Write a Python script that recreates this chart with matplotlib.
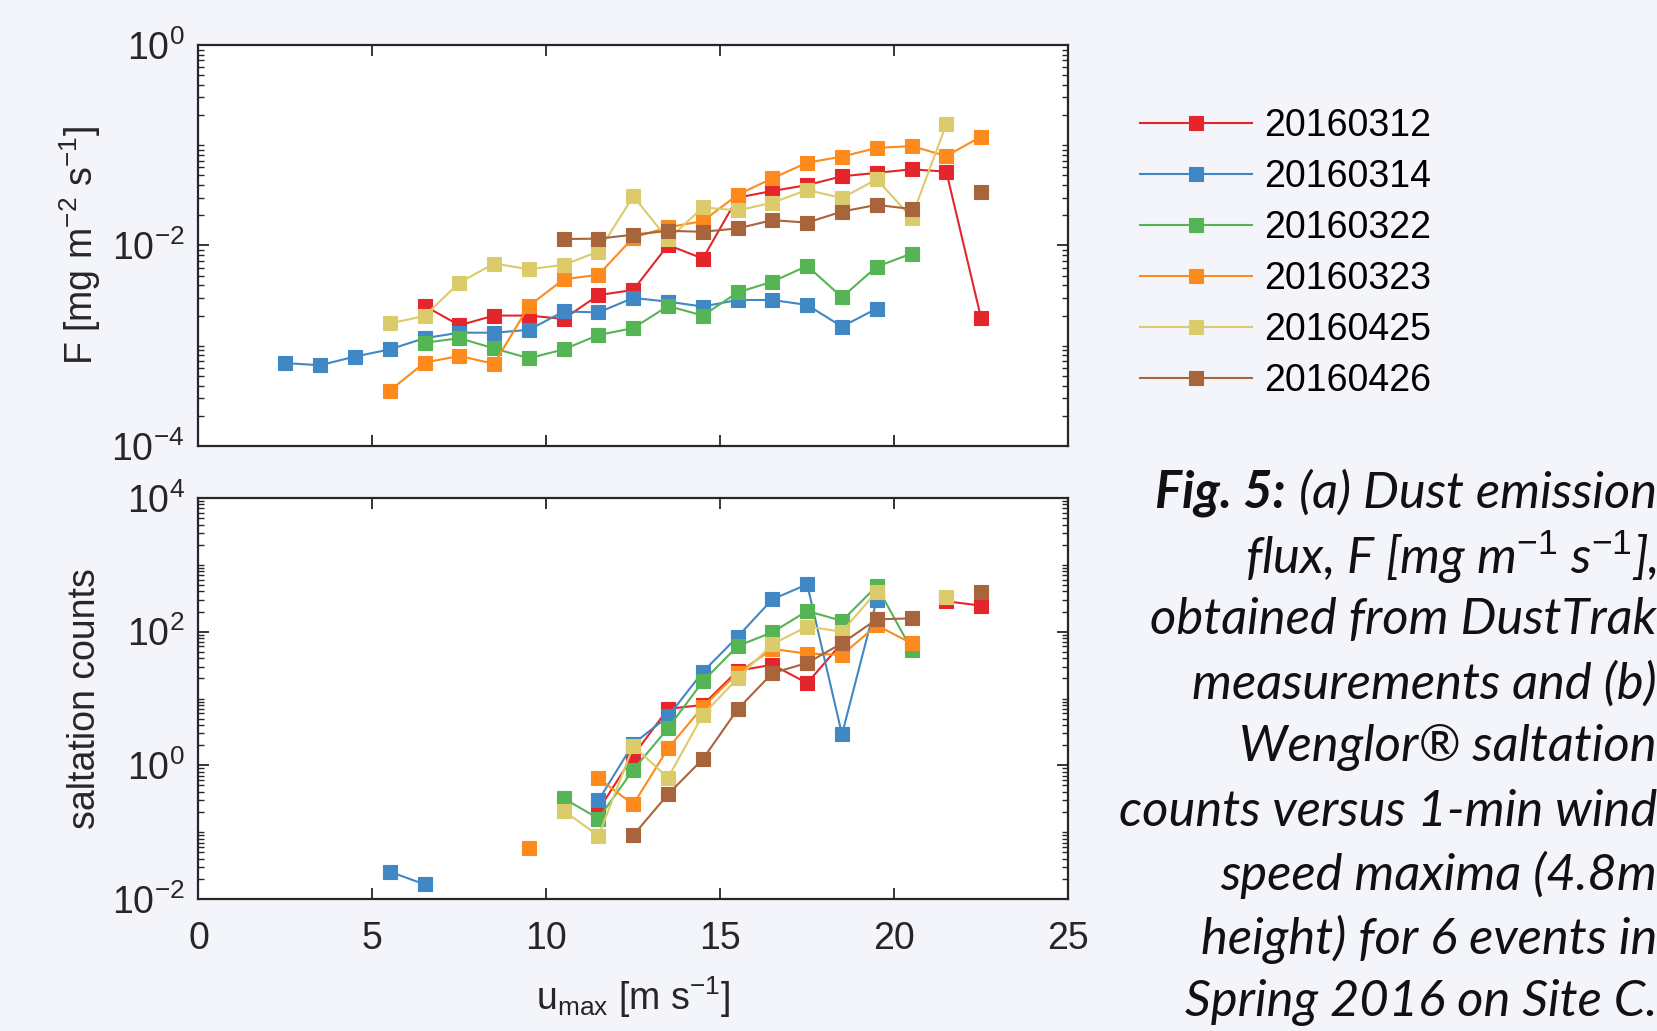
import numpy as np
import matplotlib
matplotlib.use('Agg')
import matplotlib.pyplot as plt
from matplotlib.ticker import LogLocator, NullFormatter, FixedLocator

nan = np.nan

# wind speed bins (1-min maxima), m/s
u_max = [2.5, 3.5, 4.5, 5.5, 6.5, 7.5, 8.5, 9.5, 10.5, 11.5, 12.5,
         13.5, 14.5, 15.5, 16.5, 17.5, 18.5, 19.5, 20.5, 21.5, 22.5]

events = ['20160312', '20160314', '20160322', '20160323', '20160425', '20160426']
colors = ['#e4262c', '#3f88c5', '#55b454', '#fd8a1c', '#dccb6a', '#a8643a']

# (a) dust emission flux F [mg m-2 s-1]
F_0312 = [nan, nan, nan, nan, 2.5e-3, 1.6e-3, 2.0e-3, 2.0e-3, 1.85e-3, 3.2e-3, 3.6e-3,
          1.01e-2, 7.4e-3, 3.0e-2, 3.5e-2, 4.0e-2, 4.9e-2, 5.3e-2, 5.75e-2, 5.45e-2, 1.88e-3]
F_0314 = [6.7e-4, 6.4e-4, 7.8e-4, 9.2e-4, 1.19e-3, 1.35e-3, 1.35e-3, 1.44e-3, 2.2e-3, 2.15e-3, 3.0e-3,
          2.75e-3, 2.46e-3, 2.86e-3, 2.86e-3, 2.55e-3, 1.55e-3, 2.35e-3, nan, nan, nan]
F_0322 = [nan, nan, nan, nan, 1.07e-3, 1.19e-3, 9.4e-4, 7.5e-4, 9.2e-4, 1.28e-3, 1.5e-3,
          2.49e-3, 2.0e-3, 3.4e-3, 4.36e-3, 6.25e-3, 3.05e-3, 6.15e-3, 8.3e-3, nan, nan]
F_0323 = [nan, nan, nan, 3.56e-4, 6.8e-4, 7.9e-4, 6.6e-4, 2.5e-3, 4.6e-3, 5.1e-3, 1.2e-2,
          1.52e-2, 1.75e-2, 3.2e-2, 4.68e-2, 6.7e-2, 7.7e-2, 9.4e-2, 9.8e-2, 7.8e-2, 0.122]
F_0425 = [nan, nan, nan, 1.67e-3, 1.98e-3, 4.26e-3, 6.6e-3, 5.8e-3, 6.4e-3, 8.7e-3, 3.1e-2,
          1.15e-2, 2.4e-2, 2.24e-2, 2.67e-2, 3.58e-2, 2.97e-2, 4.57e-2, 1.9e-2, 0.162, nan]
F_0426 = [nan, nan, nan, nan, nan, nan, nan, nan, 1.16e-2, 1.17e-2, 1.28e-2,
          1.4e-2, 1.37e-2, 1.48e-2, 1.79e-2, 1.69e-2, 2.18e-2, 2.54e-2, 2.31e-2, nan, 3.4e-2]

# (b) Wenglor saltation counts
S_0312 = [nan, nan, nan, nan, nan, nan, nan, nan, nan, 0.214, 1.4,
          7.0, 8.0, 26, 32, 17, 68, nan, nan, 285, 245]
S_0314 = [nan, nan, nan, 0.0256, 0.0166, nan, nan, nan, nan, 0.3, 2.1,
          5.4, 25, 84, 305, 510, 2.9, 300, nan, nan, nan]
S_0322 = [nan, nan, nan, nan, nan, nan, nan, nan, 0.32, 0.16, 0.86,
          3.6, 18, 61, 98, 204, 145, 480, 54, nan, nan]
S_0323 = [nan, nan, nan, nan, nan, nan, nan, 0.059, nan, 0.64, 0.26,
          1.8, 7.5, 24, 55, 47, 45, 124, 67, nan, nan]
S_0425 = [nan, nan, nan, nan, nan, nan, nan, nan, 0.21, 0.088, 1.95,
          0.65, 5.7, 20, 65, 119, 100, 396, nan, 334, nan]
S_0426 = [nan, nan, nan, nan, nan, nan, nan, nan, nan, nan, 0.09,
          0.37, 1.24, 6.9, 24, 34, 67, 153, 158, nan, 396]

flux = [F_0312, F_0314, F_0322, F_0323, F_0425, F_0426]
salt = [S_0312, S_0314, S_0322, S_0323, S_0425, S_0426]

caption = ['flux, F [mg m$^{\\mathit{-1}}$ s$^{\\mathit{-1}}$],',
           'obtained from DustTrak',
           'measurements and (b)',
           'Wenglor® saltation',
           'counts versus 1-min wind',
           'speed maxima (4.8m',
           'height) for 6 events in',
           'Spring 2016 on Site C.']

bg = '#f3f5fa'
plt.rcParams['font.family'] = ['Liberation Sans', 'DejaVu Sans']
plt.rcParams['mathtext.fontset'] = 'custom'
plt.rcParams['mathtext.rm'] = 'Liberation Sans'
plt.rcParams['mathtext.it'] = 'Liberation Sans:italic'
plt.rcParams['mathtext.bf'] = 'Liberation Sans:bold'
plt.rcParams['font.size'] = 27

fig = plt.figure(figsize=(16.58, 10.31), dpi=100, facecolor=bg)
ax1 = fig.add_axes([0.1197, 0.5674, 0.5245, 0.389])
ax2 = fig.add_axes([0.1197, 0.128, 0.5245, 0.389])

for ax, data, lo, hi in [(ax1, flux, 1e-4, 1), (ax2, salt, 1e-2, 1e4)]:
    for name, c, y in zip(events, colors, data):
        ax.plot(u_max, y, '-s', color=c, lw=1.5, ms=9.5, mec=c, mew=0.8, label=name)
    ax.set_yscale('log')
    ax.set_ylim(lo, hi)
    ax.set_xlim(0, 25)
    ax.yaxis.set_major_locator(LogLocator(base=100, numticks=10))
    ax.yaxis.set_minor_locator(LogLocator(base=10, subs=np.arange(1, 10), numticks=100))
    ax.yaxis.set_minor_formatter(NullFormatter())
    ax.xaxis.set_major_locator(FixedLocator([0, 5, 10, 15, 20, 25]))
    ax.tick_params(which='both', direction='in', top=True, right=True, colors='#262626')
    ax.tick_params(which='major', length=8, width=1.3)
    ax.tick_params(which='minor', length=4, width=1.0)
    ax.tick_params(axis='x', pad=16)
    ax.tick_params(axis='y', pad=10)
    for s in ax.spines.values():
        s.set_linewidth(1.6)
        s.set_color('#262626')
    ax.set_facecolor('white')

ax1.tick_params(axis='x', labelbottom=False)
ax1.set_ylabel('F [mg m$^{-2}$ s$^{-1}$]', color='#262626')
ax2.set_ylabel('saltation counts', color='#262626')
ax2.set_xlabel('u$_{\\rm max}$ [m s$^{-1}$]', color='#262626', labelpad=12)
ax1.yaxis.set_label_coords(-0.11, 0.5)
ax2.yaxis.set_label_coords(-0.11, 0.5)

fig.legend(*ax1.get_legend_handles_labels(), loc='upper left',
           bbox_to_anchor=(1140 / 1658, 1 - 108 / 1031), frameon=False,
           fontsize=27, handlelength=3.0, handletextpad=0.3, labelspacing=0.4,
           borderpad=0, borderaxespad=0)

# caption, right aligned at the figure edge
xr = 1657 / 1658
y0 = 1 - 493 / 1031
step = 63.7 / 1031
cap_font = dict(family=['Lato', 'DejaVu Sans'], style='italic', size=36.5, color='#111111')
t = fig.text(xr, y0, '(a) Dust emission', ha='right', va='center', **cap_font)
r = fig.canvas.get_renderer()
bb = t.get_window_extent(r)
fig.text(bb.x0 / fig.bbox.width - 0.008, y0, 'Fig. 5:', ha='right', va='center',
         weight='bold', **cap_font)
for i, line in enumerate(caption):
    fig.text(xr, y0 - (i + 1) * step, line, ha='right', va='center', **cap_font)

fig.savefig('out.png', dpi=100, facecolor=bg)
